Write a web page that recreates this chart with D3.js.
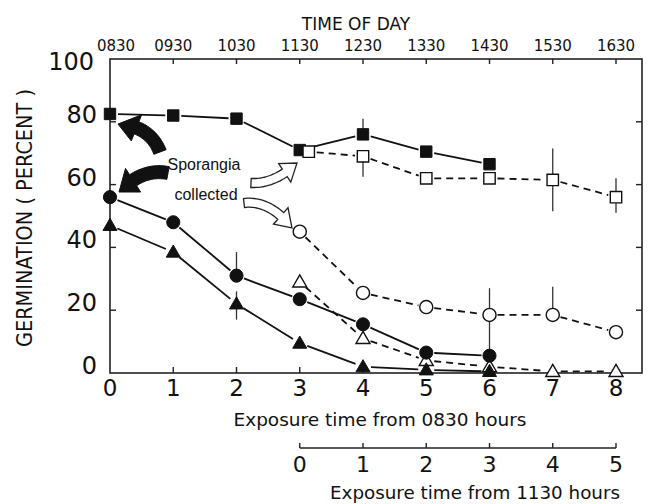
<!DOCTYPE html>
<html>
<head>
<meta charset="utf-8">
<script src="https://cdn.jsdelivr.net/npm/d3@7"></script>
<style>
  body { margin: 0; background: #fff; }
  text { font-family: "DejaVu Sans", sans-serif; fill: #111; }
</style>
</head>
<body>
<svg id="chart" width="651" height="504"></svg>
<script>
// hours of exposure from 0830
const xA = [0, 1, 2, 3, 4, 5, 6];
const xB = [3, 4, 5, 6, 7, 8];
const filledSq = [82.5, 82, 81, 71, 76, 70.5, 66.5];
const openSq = [70.5, 69, 62, 62, 61.5, 56];
const filledCirc = [56, 48, 31, 23.5, 15.5, 6.5, 5.5];
const openCirc = [45, 25.5, 21, 18.5, 18.5, 13];
const filledTri = [47, 38.5, 22, 9.5, 2, 1, 0.5];
const openTri = [29, 11, 4, 2, 0.5, 0.5];

const timeLabels = ['0830', '0930', '1030', '1130', '1230', '1330', '1430', '1530', '1630'];
const yTicks = [0, 20, 40, 60, 80, 100];
const xTicks = [0, 1, 2, 3, 4, 5, 6, 7, 8];
const x2Ticks = [0, 1, 2, 3, 4, 5];

// [x, low, high]
const errFilledSq = [[4, 76, 81]];
const errOpenSq = [[4, 62.5, 69], [7, 51.5, 71.5], [8, 51, 62]];
const errFilledCirc = [[2, 31, 38.5]];
const errOpenCirc = [[6, 5, 27], [7, 18.5, 27.5]];
const errFilledTri = [[2, 17, 26]];

const svg = d3.select('#chart');
const x = d3.scaleLinear().domain([0, 8]).range([110, 616]);
const y = d3.scaleLinear().domain([0, 100]).range([373, 59]);
const right = x(8) + 26;

// frame
svg.append('rect')
    .attr('x', x(0)).attr('y', y(100))
    .attr('width', right - x(0)).attr('height', y(0) - y(100))
    .attr('fill', 'none').attr('stroke', '#222').attr('stroke-width', 1.6);

const tickG = svg.append('g').attr('stroke', '#222').attr('stroke-width', 1.4);
xTicks.slice(1).forEach(t => {
    tickG.append('line').attr('x1', x(t)).attr('x2', x(t)).attr('y1', y(0)).attr('y2', y(0) - 6);
    tickG.append('line').attr('x1', x(t)).attr('x2', x(t)).attr('y1', y(100)).attr('y2', y(100) + 5);
});
yTicks.slice(1, -1).forEach(t => {
    tickG.append('line').attr('x1', x(0)).attr('x2', x(0) + 6).attr('y1', y(t)).attr('y2', y(t));
    tickG.append('line').attr('x1', right).attr('x2', right - 6).attr('y1', y(t)).attr('y2', y(t));
});

// axis labels
svg.selectAll('.ylab').data(yTicks).enter().append('text')
    .attr('x', d => d === 100 ? 94 : 97).attr('y', d => y(d) + (d === 100 ? 4 : -6))
    .attr('text-anchor', 'end').attr('dominant-baseline', 'middle')
    .attr('font-size', 24).text(d => d);

svg.selectAll('.xlab').data(xTicks).enter().append('text')
    .attr('x', d => x(d)).attr('y', 389)
    .attr('text-anchor', 'middle').attr('dominant-baseline', 'middle')
    .attr('font-size', 23).text(d => d);

svg.selectAll('.tlab').data(timeLabels).enter().append('text')
    .attr('x', (d, i) => x(i) + (i === 0 ? 6 : 0)).attr('y', 46)
    .attr('text-anchor', 'middle').attr('dominant-baseline', 'middle')
    .attr('font-size', 15).text(d => d);

svg.append('text').attr('x', 356).attr('y', 25)
    .attr('text-anchor', 'middle').attr('dominant-baseline', 'middle')
    .attr('font-size', 17).text('TIME OF DAY');

svg.append('text')
    .attr('transform', 'translate(26,218) rotate(-90)')
    .attr('text-anchor', 'middle').attr('dominant-baseline', 'middle')
    .attr('font-size', 21).attr('textLength', 258).attr('lengthAdjust', 'spacingAndGlyphs')
    .text('GERMINATION ( PERCENT )');

svg.append('text').attr('x', 380).attr('y', 421)
    .attr('text-anchor', 'middle').attr('dominant-baseline', 'middle')
    .attr('font-size', 17).attr('textLength', 293).attr('lengthAdjust', 'spacingAndGlyphs')
    .text('Exposure time from 0830 hours');

// second axis (from 1130)
const x2 = d3.scaleLinear().domain([0, 5]).range([x(3), x(8)]);
svg.append('line').attr('x1', x2(0)).attr('x2', x2(5)).attr('y1', 448).attr('y2', 448)
    .attr('stroke', '#222').attr('stroke-width', 1.4);
x2Ticks.forEach(t => {
    svg.append('line').attr('x1', x2(t)).attr('x2', x2(t)).attr('y1', 448).attr('y2', 443)
        .attr('stroke', '#222').attr('stroke-width', 1.4);
});
svg.selectAll('.x2lab').data(x2Ticks).enter().append('text')
    .attr('x', d => x2(d)).attr('y', 466)
    .attr('text-anchor', 'middle').attr('dominant-baseline', 'middle')
    .attr('font-size', 22).text(d => d);
svg.append('text').attr('x', 475).attr('y', 494)
    .attr('text-anchor', 'middle').attr('dominant-baseline', 'middle')
    .attr('font-size', 17).attr('textLength', 290).attr('lengthAdjust', 'spacingAndGlyphs')
    .text('Exposure time from 1130 hours');

// error bars
function errBars(list) {
    list.forEach(e => {
        svg.append('line').attr('x1', x(e[0])).attr('x2', x(e[0]))
            .attr('y1', y(e[1])).attr('y2', y(e[2]))
            .attr('stroke', '#333').attr('stroke-width', 1.3);
    });
}
[errFilledSq, errOpenSq, errFilledCirc, errOpenCirc, errFilledTri].forEach(errBars);

// lines with gaps around markers
function series(xs, ys, dashed, dodge) {
    const pts = xs.map((d, i) => [x(d) + (i === 0 ? dodge : 0), y(ys[i])]);
    const gap = 8;
    for (let i = 0; i < pts.length - 1; i++) {
        const [ax, ay] = pts[i], [bx, by] = pts[i + 1];
        const len = Math.hypot(bx - ax, by - ay);
        if (len < gap * 2 + 1) continue;
        const ux = (bx - ax) / len, uy = (by - ay) / len;
        svg.append('line')
            .attr('x1', ax + ux * gap).attr('y1', ay + uy * gap)
            .attr('x2', bx - ux * gap).attr('y2', by - uy * gap)
            .attr('stroke', '#111').attr('stroke-width', 1.8)
            .attr('stroke-dasharray', dashed ? '7,5' : null);
    }
    return pts;
}

function markers(pts, shape, filled) {
    const sym = d3.symbol().type(shape).size(shape === d3.symbolTriangle ? 85 : (shape === d3.symbolSquare ? 130 : 135));
    svg.append('g').selectAll('path').data(pts).enter().append('path')
        .attr('d', sym)
        .attr('transform', d => `translate(${d[0]},${d[1] + (shape === d3.symbolTriangle ? 1 : 0)})`)
        .attr('fill', filled ? '#111' : '#fff')
        .attr('stroke', '#111').attr('stroke-width', filled ? 1 : 1.4);
}

const pOpenTri = series(xB, openTri, true, 0);
const pOpenCirc = series(xB, openCirc, true, 0);
const pOpenSq = series(xB, openSq, true, 9);
const pFilledTri = series(xA, filledTri, false, 0);
const pFilledCirc = series(xA, filledCirc, false, 0);
const pFilledSq = series(xA, filledSq, false, 0);

markers(pOpenTri, d3.symbolTriangle, false);
markers(pOpenCirc, d3.symbolCircle, false);
markers(pFilledTri, d3.symbolTriangle, true);
markers(pFilledCirc, d3.symbolCircle, true);
markers(pFilledSq, d3.symbolSquare, true);
markers(pOpenSq, d3.symbolSquare, false);

// curved arrows
function arrowPath(p0, c, p1, shaftW, headW, headL) {
    const bez = t => [
        (1 - t) * (1 - t) * p0[0] + 2 * (1 - t) * t * c[0] + t * t * p1[0],
        (1 - t) * (1 - t) * p0[1] + 2 * (1 - t) * t * c[1] + t * t * p1[1]
    ];
    const n = 40;
    const samples = d3.range(n + 1).map(i => bez(i / n));
    let tEnd = 1;
    for (let i = n; i >= 0; i--) {
        if (Math.hypot(samples[i][0] - p1[0], samples[i][1] - p1[1]) >= headL) { tEnd = i / n; break; }
    }
    const left = [], rightSide = [];
    const m = 20;
    let lastN = [0, 0], base = p0;
    for (let i = 0; i <= m; i++) {
        const t = tEnd * i / m;
        const p = bez(t);
        const dx = 2 * (1 - t) * (c[0] - p0[0]) + 2 * t * (p1[0] - c[0]);
        const dy = 2 * (1 - t) * (c[1] - p0[1]) + 2 * t * (p1[1] - c[1]);
        const l = Math.hypot(dx, dy);
        const nx = -dy / l, ny = dx / l;
        const w = shaftW / 2;
        left.push([p[0] + nx * w, p[1] + ny * w]);
        rightSide.push([p[0] - nx * w, p[1] - ny * w]);
        lastN = [nx, ny]; base = p;
    }
    const hw = headW / 2;
    const pts = left.concat([
        [base[0] + lastN[0] * hw, base[1] + lastN[1] * hw],
        p1,
        [base[0] - lastN[0] * hw, base[1] - lastN[1] * hw]
    ]).concat(rightSide.reverse());
    return 'M' + pts.map(p => p[0].toFixed(1) + ',' + p[1].toFixed(1)).join('L') + 'Z';
}

const arrowsBlack = [
    [[160, 152], [150, 126], [118, 124]],
    [[168, 173], [142, 168], [119, 192]]
];
const arrowsOpen = [
    [[251, 183], [275, 184], [297, 163]],
    [[244, 203], [270, 200], [292, 228]]
];
arrowsBlack.forEach(a => {
    svg.append('path').attr('d', arrowPath(a[0], a[1], a[2], 13, 28, 18))
        .attr('fill', '#111').attr('stroke', '#111').attr('stroke-width', 1);
});
arrowsOpen.forEach(a => {
    svg.append('path').attr('d', arrowPath(a[0], a[1], a[2], 9, 22, 15))
        .attr('fill', '#fff').attr('stroke', '#222').attr('stroke-width', 1.3);
});

svg.append('text').attr('x', 204).attr('y', 166)
    .attr('text-anchor', 'middle').attr('dominant-baseline', 'middle')
    .style('font-family', '"Liberation Sans", Arial, sans-serif')
    .attr('font-size', 16).text('Sporangia');
svg.append('text').attr('x', 206).attr('y', 196)
    .attr('text-anchor', 'middle').attr('dominant-baseline', 'middle')
    .style('font-family', '"Liberation Sans", Arial, sans-serif')
    .attr('font-size', 16).text('collected');
</script>
</body>
</html>
